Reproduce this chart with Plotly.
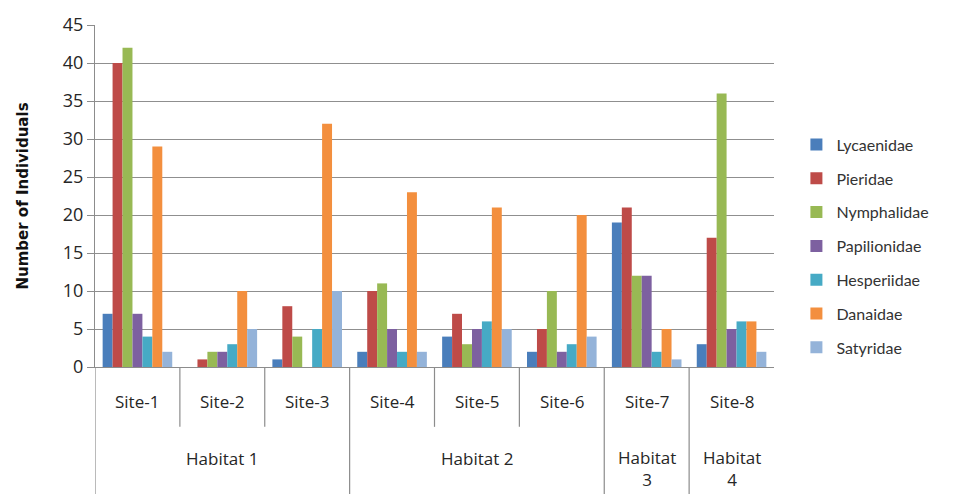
import plotly.graph_objects as go

sites = ["Site-1", "Site-2", "Site-3", "Site-4", "Site-5", "Site-6", "Site-7", "Site-8"]
habitats = ["Habitat 1", "Habitat 2", "Habitat 3", "Habitat 4"]
habitat_labels = ["Habitat 1", "Habitat 2", "Habitat<br>3", "Habitat<br>4"]
habitat_sites = [3, 3, 1, 1]  # number of sites per habitat

families = ["Lycaenidae", "Pieridae", "Nymphalidae", "Papilionidae",
            "Hesperiidae", "Danaidae", "Satyridae"]

lycaenidae = [7, 0, 1, 2, 4, 2, 19, 3]
pieridae = [40, 1, 8, 10, 7, 5, 21, 17]
nymphalidae = [42, 2, 4, 11, 3, 10, 12, 36]
papilionidae = [7, 2, 0, 5, 5, 2, 12, 5]
hesperiidae = [4, 3, 5, 2, 6, 3, 2, 6]
danaidae = [29, 10, 32, 23, 21, 20, 5, 6]
satyridae = [2, 5, 10, 2, 5, 4, 1, 2]

values = [lycaenidae, pieridae, nymphalidae, papilionidae,
          hesperiidae, danaidae, satyridae]
colors = ["#4A7EBB", "#BE4B48", "#98B954", "#7D60A0",
          "#46AAC5", "#F38F3E", "#94B3D9"]

font_family = "Open Sans, Lato, DejaVu Sans, sans-serif"
axis_grey = "#8c8c8c"
text_col = "#262626"

fig = go.Figure()
xs = list(range(len(sites)))
for i, (name, vals) in enumerate(zip(families, values)):
    fig.add_trace(go.Bar(
        x=xs, y=vals, name=name, marker_color=colors[i],
        marker_line_width=0, legendgroup=name,
    ))

# divider lines below the axis
shapes = []
bottom_site = -0.175
bottom_hab = -0.40
boundaries = [-0.5]
acc = -0.5
for n in habitat_sites:
    acc += n
    boundaries.append(acc)
hab_bounds = set(boundaries[:-1])
for k in range(len(sites)):
    b = k - 0.5
    y1 = bottom_hab if b in hab_bounds else bottom_site
    shapes.append(dict(type="line", xref="x", yref="paper", x0=b, x1=b,
                       y0=0, y1=y1, line=dict(color=axis_grey, width=1.2)))

annotations = []
for k, s in enumerate(sites):
    annotations.append(dict(x=k, y=-0.102, xref="x", yref="paper", text=s,
                            showarrow=False, yanchor="middle",
                            font=dict(size=17, color=text_col, family=font_family)))
for h, lab in enumerate(habitat_labels):
    center = (boundaries[h] + boundaries[h + 1]) / 2
    yv = -0.268 if "<br>" not in lab else -0.298
    annotations.append(dict(x=center, y=yv, xref="x", yref="paper", text=lab,
                            showarrow=False, yanchor="middle",
                            font=dict(size=17, color=text_col, family=font_family)))

fig.update_layout(
    width=960, height=494,
    margin=dict(l=95, r=186, t=19, b=127),
    paper_bgcolor="white", plot_bgcolor="white",
    barmode="group", bargap=0.18, bargroupgap=0,
    font=dict(family=font_family, size=15, color=text_col),
    shapes=shapes, annotations=annotations,
    legend=dict(x=1.033, y=0.70, yanchor="top", xanchor="left",
                font=dict(size=16, family="Lato, Open Sans, sans-serif", color="#333333"),
                tracegroupgap=10, traceorder="grouped", itemwidth=30),
    showlegend=True,
)
fig.update_xaxes(
    range=[-0.5, len(sites) - 0.5], showticklabels=False,
    showline=True, linecolor=axis_grey, linewidth=1.2,
    showgrid=False, zeroline=False, ticks="",
)
fig.update_yaxes(
    range=[0, 45], dtick=5, tick0=0,
    showline=True, linecolor=axis_grey, linewidth=1.2,
    showgrid=True, gridcolor="#8f8f8f", gridwidth=1.2,
    ticks="outside", ticklen=7, tickcolor=axis_grey,
    zeroline=False,
    tickfont=dict(size=18, color=text_col, family=font_family),
    title=dict(text="<b>Number of Individuals</b>", standoff=30,
               font=dict(size=15, color="#111111", family="DejaVu Sans, sans-serif")),
)

fig.write_html("out.html")
